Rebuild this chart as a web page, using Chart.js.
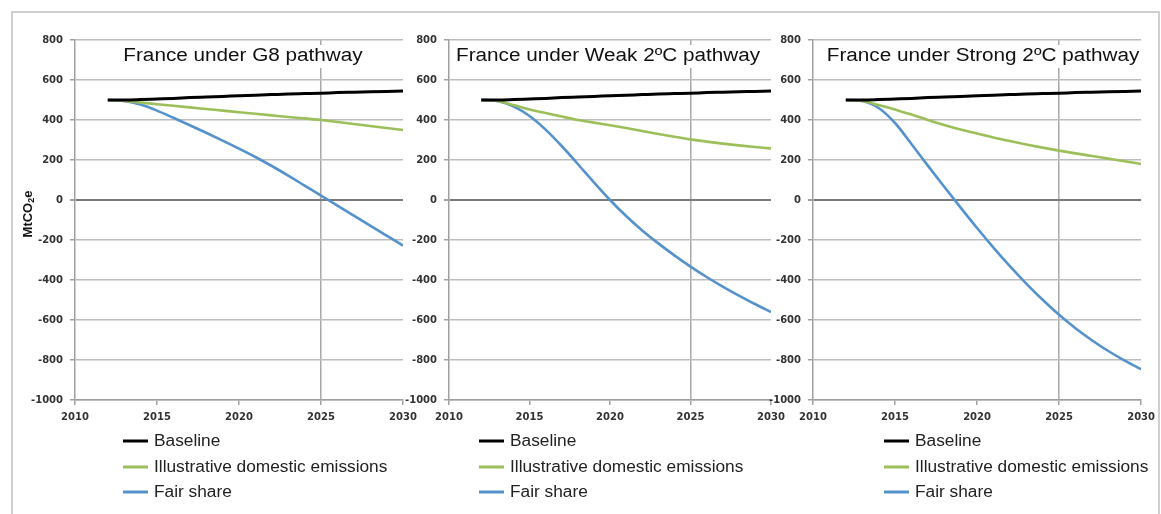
<!DOCTYPE html>
<html><head><meta charset="utf-8">
<script src="https://cdn.jsdelivr.net/npm/chart.js@4.4.0/dist/chart.umd.min.js"></script>
<style>
html,body{margin:0;padding:0;background:#fff;width:1161px;height:514px;overflow:hidden;}
#frame{position:absolute;left:11px;top:11px;width:1149px;height:530px;border:2px solid #cfcfcf;box-sizing:border-box;}
canvas{position:absolute;left:0;top:0;}
</style></head><body>
<div id="frame"></div>
<canvas id="c1" width="1161" height="514"></canvas>
<canvas id="c2" width="1161" height="514"></canvas>
<canvas id="c3" width="1161" height="514"></canvas>
<script>
// ---- data ----
const years = [2012,2013,2014,2015,2016,2017,2018,2019,2020,2021,2022,2023,2024,2025,2026,2027,2028,2029,2030];
const seriesNames = ["Baseline", "Illustrative domestic emissions", "Fair share"];
const panelTitles = ["France under G8 pathway", "France under Weak 2ºC pathway", "France under Strong 2ºC pathway"];
const yTicks = [-1000,-800,-600,-400,-200,0,200,400,600,800];
const xTicks = [2010,2015,2020,2025,2030];

const baseline       = [500,500,502,505,508,512,515,518,521,524,527,530,532,534,537,539,541,543,545];
const g8Domestic     = [500,495,487,479,471,463,455,447,439,431,423,415,408,400,390,380,370,360,350];
const g8Fair         = [500,495,477,447,411,374,336,297,257,215,170,122,72,22,-28,-78,-128,-178,-228];
const weakDomestic   = [500,495,475,452,435,417,400,387,374,360,345,330,316,303,292,282,273,265,258];
const weakFair       = [500,495,468,420,352,270,180,88,0,-80,-152,-217,-277,-333,-385,-433,-478,-520,-560];
const strongDomestic = [500,495,475,452,428,400,375,352,333,313,295,278,262,247,233,220,207,194,180];
const strongFair     = [500,495,460,385,280,172,66,-38,-140,-238,-331,-418,-499,-574,-641,-701,-755,-803,-846];

// ---- styles / layout ----
const colors = ["#000000", "#9cbf5a", "#5592cc"];
const widths = [3, 2.6, 2.6];
const W = 1161, H = 514;
const panels = [
  {id:"c1", left:75,  right:403,  titleX:243, legendX:123, data:[baseline, g8Domestic, g8Fair], yTitle:true},
  {id:"c2", left:449, right:771,  titleX:608, legendX:479, data:[baseline, weakDomestic, weakFair], yTitle:false},
  {id:"c3", left:813, right:1143, titleX:983, legendX:884, data:[baseline, strongDomestic, strongFair], yTitle:false}
];
const TOP = 40, BOTTOM = 400, YAXW = 45, XAXH = 30;
const tickFont = {family:"'DejaVu Sans', sans-serif", size:10, weight:"bold"};

function stretchedText(ctx, text, x, y, sx, align) {
  const w = ctx.measureText(text).width * sx;
  ctx.save();
  let x0 = align === "center" ? x - w/2 : x;
  ctx.translate(x0, y);
  ctx.scale(sx, 1);
  ctx.textAlign = "left";
  ctx.fillText(text, 0, 0);
  ctx.restore();
  return w;
}

const overlay = {
  id:"overlay",
  afterDraw(chart){
    const o = chart.options.plugins.overlay;
    const ctx = chart.ctx;
    // title inside the plot area
    ctx.save();
    ctx.font = "18px 'Liberation Sans', Arial, sans-serif";
    const tw = ctx.measureText(o.title).width * 1.15;
    ctx.fillStyle = "#fff";
    ctx.fillRect(o.titleX - tw/2 - 3, 45, tw + 6, 23);
    ctx.fillStyle = "#111";
    ctx.textBaseline = "middle";
    stretchedText(ctx, o.title, o.titleX, 56, 1.15, "center");
    ctx.restore();
    // legend
    ctx.save();
    const rows = [441, 467, 492];
    chart.data.datasets.forEach((ds, i) => {
      ctx.strokeStyle = ds.borderColor;
      ctx.lineWidth = 3;
      ctx.beginPath();
      ctx.moveTo(o.legendX, rows[i]);
      ctx.lineTo(o.legendX + 25, rows[i]);
      ctx.stroke();
      ctx.fillStyle = "#222";
      ctx.font = "16px 'Liberation Sans', Arial, sans-serif";
      ctx.textBaseline = "middle";
      stretchedText(ctx, ds.label, o.legendX + 31, rows[i] + 1, 1.08, "left");
    });
    ctx.restore();
    // y-axis title with subscript
    if (o.yTitle) {
      ctx.save();
      ctx.translate(28, 214);
      ctx.rotate(-Math.PI/2);
      ctx.fillStyle = "#111";
      ctx.textBaseline = "middle";
      ctx.textAlign = "left";
      const f1 = "bold 13px 'Liberation Sans', Arial, sans-serif";
      const f2 = "bold 9px 'Liberation Sans', Arial, sans-serif";
      ctx.font = f1; const w1 = ctx.measureText("MtCO").width;
      ctx.font = f2; const w2 = ctx.measureText("2").width;
      ctx.font = f1; const w3 = ctx.measureText("e").width;
      let x = -(w1 + w2 + w3)/2;
      ctx.font = f1; ctx.fillText("MtCO", x, 0); x += w1;
      ctx.font = f2; ctx.fillText("2", x, 4); x += w2;
      ctx.font = f1; ctx.fillText("e", x, 0);
      ctx.restore();
    }
  }
};

panels.forEach((p, pi) => {
  new Chart(document.getElementById(p.id), {
    type: "line",
    data: {
      datasets: p.data.map((arr, i) => ({
        label: seriesNames[i],
        data: years.map((yr, k) => ({x: yr, y: arr[k]})),
        borderColor: colors[i],
        backgroundColor: colors[i],
        borderWidth: widths[i],
        pointRadius: 0,
        cubicInterpolationMode: "monotone",
        fill: false
      }))
    },
    options: {
      responsive: false,
      animation: false,
      devicePixelRatio: 1,
      layout: {padding: {left: p.left - YAXW, right: W - p.right, top: TOP, bottom: H - BOTTOM - XAXH}},
      plugins: {
        legend: {display: false},
        tooltip: {enabled: false},
        overlay: {title: panelTitles[pi], titleX: p.titleX, legendX: p.legendX, yTitle: p.yTitle}
      },
      scales: {
        x: {
          type: "linear", min: xTicks[0], max: xTicks[xTicks.length-1],
          afterFit: s => { s.height = XAXH; },
          afterBuildTicks: s => { s.ticks = xTicks.map(v => ({value: v})); },
          ticks: {font: tickFont, color: "#333", padding: 6, maxRotation: 0, callback: v => String(v)},
          grid: {
            color: c => (c.tick && c.tick.value === 2025) ? "#a8a8a8" : "rgba(0,0,0,0)",
            lineWidth: 1.5, tickLength: 5, tickColor: "#a0a0a0", tickWidth: 1.5
          },
          border: {color: "#a0a0a0", width: 1.5}
        },
        y: {
          min: yTicks[0], max: yTicks[yTicks.length-1],
          afterFit: s => { s.width = YAXW; },
          afterBuildTicks: s => { s.ticks = yTicks.map(v => ({value: v})); },
          ticks: {font: tickFont, color: "#333", padding: 7, callback: v => String(v)},
          grid: {
            color: c => (c.tick && c.tick.value === 0) ? "#7a7a7a" : "#bdbdbd",
            lineWidth: c => (c.tick && c.tick.value === 0) ? 2 : 1.5,
            tickLength: 5, tickColor: "#a0a0a0"
          },
          border: {color: "#a0a0a0", width: 1.5}
        }
      }
    },
    plugins: [overlay]
  });
});
</script>
</body></html>
